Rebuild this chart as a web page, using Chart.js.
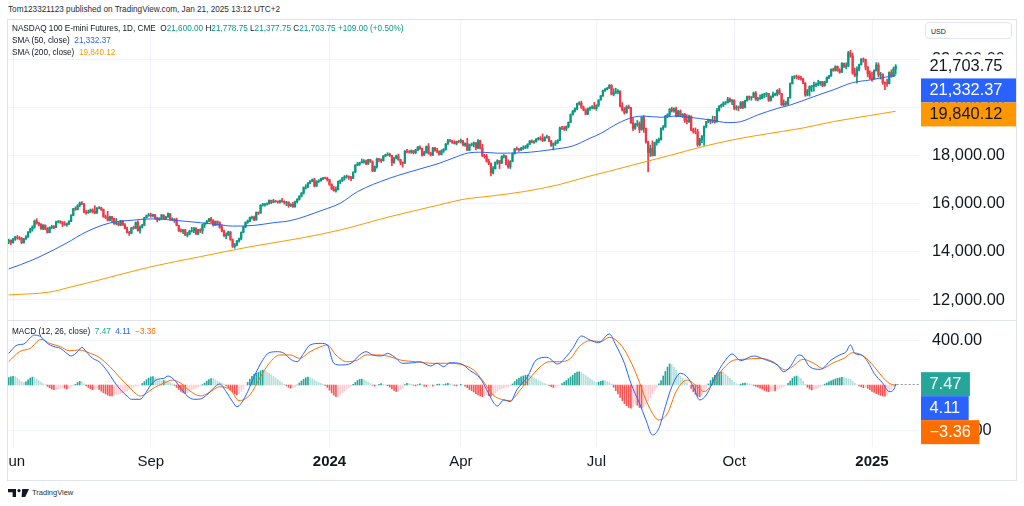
<!DOCTYPE html>
<html><head><meta charset="utf-8">
<script src="https://cdn.jsdelivr.net/npm/chart.js@4.4.1/dist/chart.umd.min.js"></script>
<style>
html,body{margin:0;padding:0;background:#fff;width:1024px;height:506px;overflow:hidden;font-family:"Liberation Sans",Arial,sans-serif;color:#131722}
.abs{position:absolute;white-space:nowrap}
#frame{position:absolute;left:7px;top:19px;width:1008px;height:460px;border:1px solid #e0e3eb}
canvas{position:absolute}
.lg{font-size:8.2px;line-height:12px}
</style></head><body>
<div class="abs lg" style="left:8px;top:4px;color:#2a2e39">Tom123321123 published on TradingView.com, Jan 21, 2025 13:12 UTC+2</div>
<div id="frame"></div>
<canvas id="main" width="1008" height="300" style="left:8px;top:20px"></canvas>
<div class="abs" style="left:8px;top:320px;width:1008px;height:1px;background:#e0e3eb"></div>
<canvas id="macd" width="1008" height="158" style="left:8px;top:321px"></canvas>
<div class="abs lg" id="lg1" style="left:12px;top:23px"></div>
<div class="abs lg" id="lg2" style="left:12px;top:35px"></div>
<div class="abs lg" id="lg3" style="left:12px;top:47px"></div>
<div class="abs lg" id="lg4" style="left:12px;top:326px"></div>
<div class="abs" style="left:925px;top:22px;width:87px;height:17px;border:1px solid #e0e3eb;border-radius:4px;font-size:7px;line-height:17px;padding-left:5px;box-sizing:border-box;background:#fff">USD</div>
<svg class="abs" style="left:8px;top:489px" width="22" height="8" viewBox="0 0 22 8">
<path d="M0 0H8V8H4.6V3.2H0Z" fill="#131722"/><circle cx="11" cy="1.6" r="1.6" fill="#131722"/><path d="M14.2 0H21L17.2 8H13.6Z" fill="#131722"/></svg>
<div class="abs" style="left:32px;top:487px;font-size:7.5px;line-height:12px;color:#2a2e39">TradingView</div>
<script>
const opens=[14420,14480,14380,14530,14600,14590,14560,14380,14540,14620,
14820,14940,15030,15280,15200,15150,14960,15110,14950,14800,
15020,15050,15010,15240,15260,15240,15150,15120,15170,15270,
15510,15790,15760,15930,16030,16000,15650,15620,15660,15740,
15680,15620,15820,15830,15770,15460,15420,15310,15460,15380,
15170,15200,15120,15290,15110,14960,14810,14770,15000,14980,
15220,14880,15020,15110,15420,15500,15530,15500,15540,15420,
15330,15370,15530,15380,15450,15580,15340,15360,15330,15100,
14870,14850,14920,14700,14740,14860,14880,14990,14740,14920,
14870,15120,15190,15270,15370,15300,15110,15260,15210,15010,
14870,14660,14700,14830,14500,14230,14290,14450,14550,14810,
15040,15220,15290,15420,15440,15330,15640,15610,15930,15960,
15990,16000,16140,16060,16110,16090,16070,16120,16080,16050,
16070,15920,15980,15870,16090,16180,16320,16450,16680,16690,
16860,16940,17000,16730,16930,16950,17040,17070,17050,17000,
16800,16610,16540,16580,16930,16960,17080,17120,17130,17120,
17060,17310,17600,17640,17700,17750,17770,17650,17830,17740,
17360,17550,17850,17830,17790,17980,18030,18050,18000,17700,
17900,17980,17830,17700,17680,18180,18160,18150,18200,18120,
18230,18350,18300,18020,18120,18380,18100,18030,18320,18200,
18180,18040,18200,18260,18480,18620,18600,18540,18500,18590,
18580,18620,18440,18500,18220,18440,18460,18530,18320,18620,
18300,17990,17960,17760,17660,17280,17460,17720,17790,17680,
17960,17990,17620,17530,17760,18080,18280,18260,18250,18300,
18320,18360,18470,18600,18560,18580,18680,18720,18700,18620,
18760,18780,18600,18420,18500,18560,18640,19150,19130,19100,
19200,19380,19700,19850,19950,20150,20180,20000,19900,19720,
19950,20000,20020,19950,20090,20310,20480,20700,20760,20800,
20920,20550,20620,20650,20680,20060,19900,19780,20020,19990,
19360,19130,19290,19320,19080,19590,19120,18570,18120,18290,
18000,18530,18620,18660,19130,19190,19640,19700,19930,19870,
19950,19640,19840,19660,19720,19460,19410,19640,19070,18990,
18980,18450,18660,18810,19220,19400,19490,19430,19460,19400,
19880,20060,20110,20190,20200,20340,20260,20300,19970,20010,
19990,20220,20000,20290,20450,20410,20430,20600,20340,20360,
20380,20520,20560,20580,20290,20440,20530,20560,20710,20570,
20110,20180,20140,20400,20990,21270,21280,21260,21230,21180,
21010,20520,20700,20870,20880,20930,20970,20990,21070,20900,
21060,21250,21310,21580,21540,21700,21530,21460,21830,21680,
21720,22270,22140,21420,21330,21580,21780,22010,22000,21680,
21400,21220,21190,21530,21760,21350,21370,21030,21010,20990,
21450,21290,21600];
const highs=[14530,14500,14560,14640,14680,14640,14600,14560,14680,14840,
14980,15080,15320,15380,15230,15170,15130,15120,15010,15040,
15110,15090,15280,15300,15300,15260,15260,15200,15300,15550,
15810,15870,15960,16070,16090,16010,15720,15740,15780,15790,
15920,15840,15880,15860,15780,15530,15680,15490,15480,15400,
15390,15240,15310,15300,15170,15030,14850,15020,15070,15240,
15290,15080,15140,15440,15530,15600,15610,15570,15560,15440,
15420,15560,15540,15480,15620,15590,15420,15380,15400,15110,
14960,14930,14930,14810,14900,15020,15010,15000,14940,14960,
15150,15200,15310,15390,15430,15340,15280,15290,15250,15120,
14900,14790,14860,14840,14540,14350,14480,14570,14830,15060,
15250,15320,15450,15490,15490,15660,15660,15960,16020,16010,
16040,16160,16150,16180,16140,16120,16150,16220,16120,16100,
16080,16000,16060,16110,16210,16330,16460,16700,16790,16880,
16960,17030,17060,16960,17000,17060,17100,17110,17100,17010,
16830,16720,16700,16950,16990,17100,17170,17190,17160,17130,
17330,17620,17720,17720,17860,17830,17810,17850,17850,17780,
17570,17900,17890,17870,18000,18060,18120,18100,18010,17920,
18020,18060,17850,17740,18210,18260,18210,18240,18210,18260,
18380,18400,18310,18180,18400,18500,18140,18340,18340,18300,
18200,18240,18290,18500,18680,18670,18640,18620,18600,18640,
18690,18630,18530,18720,18480,18520,18560,18540,18660,18640,
18470,18060,18050,17850,17700,17540,17740,17830,17800,17990,
18040,18000,17820,17790,18110,18300,18360,18300,18340,18400,
18420,18490,18630,18650,18620,18710,18760,18790,18900,18780,
18850,18790,18630,18520,18620,18660,19180,19220,19220,19230,
19400,19730,19880,19980,20180,20240,20260,20060,19940,19980,
20030,20080,20210,20110,20320,20500,20720,20780,20830,20950,
20950,20780,20800,20740,20690,20200,20000,20080,20100,20000,
19560,19350,19460,19400,19620,19660,19140,18600,18440,18610,
18560,18680,18730,19150,19250,19670,19740,19950,20010,19980,
20020,19880,19900,19740,19760,19700,19680,19650,19140,19150,
19090,18720,18830,19230,19420,19520,19500,19640,19630,19960,
20080,20140,20230,20250,20420,20400,20330,20320,20080,20060,
20240,20250,20300,20470,20480,20450,20640,20660,20420,20520,
20560,20590,20620,20590,20480,20640,20600,20740,20790,20580,
20320,20260,20420,21020,21300,21330,21350,21320,21300,21210,
21030,20750,20900,20920,21050,21020,21130,21080,21080,21090,
21270,21330,21600,21630,21730,21720,21610,21860,21840,21850,
22330,22380,22260,21640,21690,21800,22030,22060,22010,21700,
21520,21470,21560,21860,21850,21460,21400,21060,21180,21480,
21560,21680,21778.75];
const lows=[14340,14300,14360,14480,14520,14500,14340,14360,14520,14600,
14790,14860,14980,15150,15080,14930,14920,14920,14780,14790,
14960,14960,15000,15200,15180,15050,15100,15060,15130,15250,
15500,15720,15740,15880,15960,15620,15560,15600,15640,15610,
15580,15600,15780,15720,15440,15380,15280,15290,15240,15140,
15130,15080,15080,15100,14950,14790,14680,14750,14940,14960,
14860,14780,14990,15090,15400,15480,15440,15450,15360,15240,
15310,15360,15360,15350,15430,15310,15290,15220,15080,14850,
14820,14760,14680,14620,14700,14820,14800,14720,14710,14800,
14760,15010,15160,15240,15210,15070,15090,15100,14980,14830,
14640,14550,14680,14480,14180,14150,14250,14400,14500,14790,
15000,15180,15250,15360,15300,15310,15550,15600,15900,15900,
15940,15980,16000,16040,16060,16020,16020,16060,15980,15920,
15850,15880,15850,15860,16030,16150,16280,16400,16610,16680,
16830,16920,16700,16720,16880,16940,17000,17030,16940,16760,
16590,16520,16480,16570,16830,16920,16980,17060,17010,16960,
17040,17290,17580,17590,17690,17680,17620,17630,17720,17330,
17330,17480,17740,17720,17770,17950,18000,17960,17580,17680,
17860,17800,17620,17520,17670,18110,18100,18090,18070,18080,
18200,18260,17980,18000,18100,18060,17980,18000,18180,18120,
18020,18030,18130,18220,18460,18570,18510,18480,18440,18530,
18520,18400,18380,18210,18200,18400,18360,18230,18290,18270,
17960,17890,17730,17620,17150,17240,17440,17640,17460,17670,
17900,17610,17480,17460,17740,18060,18230,18170,18200,18250,
18290,18300,18460,18530,18500,18560,18640,18640,18580,18600,
18720,18580,18380,18230,18420,18500,18620,19080,19050,19040,
19150,19370,19680,19800,19900,20100,19960,19860,19690,19700,
19880,19940,19930,19880,20040,20300,20460,20670,20730,20790,
20520,20480,20580,20560,20020,19850,19720,19760,19950,19340,
19030,19090,19220,18950,19050,18960,18520,17320,17960,17980,
17990,18430,18540,18640,19060,19170,19580,19640,19810,19800,
19610,19620,19620,19580,19380,19320,19380,19040,18930,18900,
18380,18400,18540,18420,19150,19370,19320,19360,19350,19390,
19850,20000,20040,20120,20180,20220,20120,19900,19890,19860,
19950,19950,19980,20260,20310,20300,20410,20290,20270,20330,
20370,20400,20440,20250,20260,20420,20490,20480,20540,20080,
20050,20080,20120,20380,20970,21200,21180,21160,21130,20990,
20460,20480,20470,20660,20680,20860,20900,20920,20860,20880,
21030,21200,21290,21500,21510,21500,21420,21450,21660,21600,
21700,22080,21380,21280,21010,21520,21760,21880,21560,21270,
21170,21090,21170,21510,21270,21180,20960,20740,20870,20970,
21250,21280,21377.75];
const closes=[14480,14380,14530,14600,14590,14560,14380,14540,14620,14820,
14940,15030,15280,15200,15150,14960,15110,14950,14800,15020,
15050,15010,15240,15260,15240,15150,15120,15170,15270,15510,
15790,15760,15930,16030,16000,15650,15620,15660,15740,15680,
15620,15820,15830,15770,15460,15420,15310,15460,15380,15170,
15200,15120,15290,15110,14960,14810,14770,15000,14980,15220,
14880,15020,15110,15420,15500,15530,15500,15540,15420,15330,
15370,15530,15380,15450,15580,15340,15360,15330,15100,14870,
14850,14920,14700,14740,14860,14880,14990,14740,14920,14870,
15120,15190,15270,15370,15300,15110,15260,15210,15010,14870,
14660,14700,14830,14500,14230,14290,14450,14550,14810,15040,
15220,15290,15420,15440,15330,15640,15610,15930,15960,15990,
16000,16140,16060,16110,16090,16070,16120,16080,16050,16070,
15920,15980,15870,16090,16180,16320,16450,16680,16690,16860,
16940,17000,16730,16930,16950,17040,17070,17050,17000,16800,
16610,16540,16580,16930,16960,17080,17120,17130,17120,17060,
17310,17600,17640,17700,17750,17770,17650,17830,17740,17360,
17550,17850,17830,17790,17980,18030,18050,18000,17700,17900,
17980,17830,17700,17680,18180,18160,18150,18200,18120,18230,
18350,18300,18020,18120,18380,18100,18030,18320,18200,18180,
18040,18200,18260,18480,18620,18600,18540,18500,18590,18580,
18620,18440,18500,18220,18440,18460,18530,18320,18620,18300,
17990,17960,17760,17660,17280,17460,17720,17790,17680,17960,
17990,17620,17530,17760,18080,18280,18260,18250,18300,18320,
18360,18470,18600,18560,18580,18680,18720,18700,18620,18760,
18780,18600,18420,18500,18560,18640,19150,19130,19100,19200,
19380,19700,19850,19950,20150,20180,20000,19900,19720,19950,
20000,20020,19950,20090,20310,20480,20700,20760,20800,20920,
20550,20620,20650,20680,20060,19900,19780,20020,19990,19360,
19130,19290,19320,19080,19590,19120,18570,18120,18290,18000,
18530,18620,18660,19130,19190,19640,19700,19930,19870,19950,
19640,19840,19660,19720,19460,19410,19640,19070,18990,18980,
18450,18660,18810,19220,19400,19490,19430,19460,19400,19880,
20060,20110,20190,20200,20340,20260,20300,19970,20010,19990,
20220,20000,20290,20450,20410,20430,20600,20340,20360,20380,
20520,20560,20580,20290,20440,20530,20560,20710,20570,20110,
20180,20140,20400,20990,21270,21280,21260,21230,21180,21010,
20520,20700,20870,20880,20930,20970,20990,21070,20900,21060,
21250,21310,21580,21540,21700,21530,21460,21830,21680,21720,
22270,22140,21420,21330,21580,21780,22010,22000,21680,21400,
21220,21190,21530,21760,21350,21370,21030,21010,20990,21450,
21290,21594.75,21703.75];

const sma50Days=[0,11,27,36,47,58,67,76,89,97,104,114,123,131,146,154,162,177,192,200,208,213,220,227,239,253,262,270,275,283,290,295,303,309,316,326,334,340,348,357,363,374,383,392,400,406,412];
const sma50Vals=[13290,13660,14370,14830,15200,15320,15370,15320,15210,15140,15070,15100,15210,15300,15740,16020,16500,17060,17470,17680,17950,18100,18140,18100,18120,18260,18400,18720,18920,19340,19590,19640,19590,19640,19590,19480,19370,19410,19690,19960,20100,20450,20730,21030,21140,21240,21332.37];
const sma200Days=[0,19,28,42,66,89,112,135,154,177,200,211,224,239,255,270,279,290,299,306,321,336,352,368,383,399,412];
const sma200Vals=[12210,12330,12520,12830,13380,13800,14210,14560,14910,15460,15950,16180,16320,16500,16780,17150,17350,17610,17820,17980,18340,18650,18900,19130,19410,19650,19840.12];

const macdDays=[0,4,7,10,12,15,18,21,24,27,29,32,34,36,39,42,46,49,52,55,57,61,63,66,69,72,74,77,80,83,86,89,92,95,98,101,104,106,108,111,114,118,121,125,128,131,134,137,140,145,148,151,154,159,163,166,169,173,176,179,183,188,191,196,199,202,205,210,214,219,222,225,227,230,233,236,241,245,250,255,259,262,266,270,274,279,282,286,289,293,296,299,302,305,308,312,315,318,321,324,329,334,336,340,346,351,357,360,363,367,369,372,377,382,386,389,391,393,396,399,402,406,409,411,412];
const macdVals=[281,356,364,420,444,428,370,341,326,281,258,296,335,296,237,207,118,29,-44,-98,-127,-127,-89,0,50,59,80,44,-30,-98,-127,-124,-89,-30,9,-59,-148,-193,-163,-59,74,222,287,296,281,228,207,281,356,370,356,193,178,193,267,296,267,258,281,252,193,198,207,169,193,163,198,190,133,59,-40,-150,-187,-133,-148,-44,74,222,246,187,252,326,436,400,376,453,356,193,15,-163,-311,-444,-385,-193,-15,104,74,-15,-133,-89,104,246,276,216,258,228,178,118,163,267,252,163,139,222,267,296,356,281,267,207,104,15,-59,-44,4.11];
const signalDays=[0,5,10,15,19,24,28,33,38,42,47,52,55,58,61,64,67,72,76,80,84,89,93,98,103,107,112,117,121,126,131,135,140,145,148,152,157,162,166,172,177,182,189,197,205,211,216,220,225,230,233,237,242,247,251,256,261,265,270,275,279,283,287,292,296,300,302,306,310,315,320,323,327,332,337,341,349,355,361,364,369,374,378,383,388,392,397,402,406,409,412];
const signalVals=[207,296,326,406,370,341,305,311,281,246,163,59,0,-59,-98,-74,-30,15,44,15,-50,-98,-68,-15,-44,-139,-89,74,193,267,267,237,296,341,356,267,207,222,267,267,252,222,207,193,193,178,133,44,-89,-133,-139,-59,59,163,207,207,237,341,394,385,424,385,281,74,-133,-281,-311,-252,-59,44,-15,-59,15,148,222,228,237,207,133,163,228,193,148,198,237,287,258,163,68,15,-3.36];
const histVals=[65,72,78,74,62,45,30,22,28,45,
62,70,66,52,38,25,12,2,-12,-25,-36,-42,-40,-34,-28,
-22,-28,-35,-30,-20,-8,6,22,32,28,10,
-8,-22,-34,-42,-38,-30,-40,
-55,-68,-80,-90,-96,-98,-92,-86,-80,-78,-72,
-62,-52,-40,-30,-20,-12,-8,-2,
14,30,48,62,72,74,66,52,
44,36,40,38,30,22,12,
-4,-22,-40,-56,-68,-74,-70,-58,
-46,-36,-28,-20,-10,
4,18,34,48,58,56,46,34,
24,14,4,-8,-24,-46,
-64,-80,-88,-78,-56,-30,
-4,24,52,76,96,104,
114,126,133,128,118,
104,90,76,62,48,34,20,6,-8,
-20,-28,-24,-14,0,
18,36,52,64,70,66,58,
44,32,22,14,6,-4,-20,
-46,-70,-90,-104,-100,-88,-70,-52,-36,-22,-10,
6,24,40,50,53,46,36,24,14,
-2,-10,-4,6,12,8,2,-6,-18,
-34,-48,-58,-54,-42,-28,
4,14,12,6,-2,-8,2,10,4,-10,-14,-6,-2,-10,
-4,6,8,2,4,10,14,10,2,-4,-8,-2,6,
0,-10,-24,-40,
-50,-62,-76,-88,-98,-104,-96,-88,-94,-100,-86,
-70,-56,-42,-34,-26,-20,-18,-8,
10,30,48,60,72,80,86,89,84,76,64,50,
40,30,20,12,4,-4,
-14,-22,-20,-12,-2,
12,26,40,56,72,88,104,114,118,110,98,
84,70,56,44,30,22,
26,32,38,36,30,22,8,
-20,-50,-80,-110,-140,-165,-185,-200,-207,-190,-170,-180,
-200,-207,-190,-170,-140,-110,-80,-50,-20,10,
40,80,120,160,187,180,160,130,100,76,
60,40,20,0,-30,-60,
-84,-100,-104,-90,-60,
-24,10,40,66,86,104,114,118,110,96,80,60,42,
24,10,4,8,14,18,16,10,
4,-4,-12,-20,-28,
-38,-48,-56,-59,-56,-48,-52,-40,-32,-24,-14,-4,
14,36,58,74,80,72,58,34,
6,-20,-36,-44,-40,-32,-24,-14,-4,
8,18,28,38,46,54,60,64,68,66,60,56,50,34,
16,2,-8,-16,-24,
-20,-30,-42,-56,-66,-76,-84,-92,-98,-100,-90,
-64,-36,-12,7.47];

const monthTicks=[2,66,149,210,273,337,401];
const monthLabels=['Jun','Sep','2024','Apr','Jul','Oct','2025'];
const priceTicks=[12000,14000,16000,18000,20000,22000];
const macdTicks=[-400,400];

// ---- styling / layout constants ----
const UP='#089981', DOWN='#F23645', GRID='#f0f3fa', TXT='#131722';
const FONT='"Liberation Sans", Arial, sans-serif';
const XMIN=-0.3225, XMAX=422.83;
const AXISW=97;

const fmtPrice=v=>v.toLocaleString('en-US',{minimumFractionDigits:2,maximumFractionDigits:2});
const fmtSigned=v=>(v<0?'\u2212':'')+fmtPrice(Math.abs(v));

const N=closes.length, L=N-1;
const sp=(t,c)=>`<span style="color:${c}">${t}</span>`;
const chg=closes[L]-closes[L-1];
document.getElementById('lg1').innerHTML='NASDAQ 100 E-mini Futures, 1D, CME&nbsp;&nbsp;O'+sp(fmtPrice(opens[L]),UP)+
 '&nbsp;H'+sp(fmtPrice(highs[L]),UP)+'&nbsp;L'+sp(fmtPrice(lows[L]),UP)+'&nbsp;C'+sp(fmtPrice(closes[L]),UP)+'&nbsp;'+
 sp((chg>=0?'+':'\u2212')+fmtPrice(Math.abs(chg))+' ('+(chg>=0?'+':'\u2212')+(Math.abs(chg)/closes[L-1]*100).toFixed(2)+'%)',UP);
document.getElementById('lg2').innerHTML='SMA (50, close)&nbsp;&nbsp;'+sp(fmtPrice(sma50Vals[sma50Vals.length-1]),'#2962FF');
document.getElementById('lg3').innerHTML='SMA (200, close)&nbsp;&nbsp;'+sp(fmtPrice(sma200Vals[sma200Vals.length-1]),'#FF9800');
const hL=histVals[histVals.length-1], mL=macdVals[macdVals.length-1], sL=signalVals[signalVals.length-1];
document.getElementById('lg4').innerHTML='MACD (12, 26, close)&nbsp;&nbsp;'+sp(fmtSigned(hL),'#22AB94')+'&nbsp;&nbsp;'+sp(fmtSigned(mL),'#2962FF')+'&nbsp;&nbsp;'+sp(fmtSigned(sL),'#FF6D00');

const cColors=closes.map((c,i)=>c>=opens[i]?UP:DOWN);
const histColors=histVals.map((h,i)=>{const p=i?histVals[i-1]:h;return h>=0?(h>=p?'#26A69A':'#B2DFDB'):(h<p?'#FF5252':'#FFCDD2');});

function xAxis(){return {type:'linear',min:XMIN,max:XMAX,offset:false,
  grid:{color:GRID,drawTicks:false,offset:false},border:{display:false},ticks:{display:false},
  afterBuildTicks:s=>{s.ticks=monthTicks.map(v=>({value:v}));},afterFit:s=>{s.height=0;}};}
function yAxis(min,max,ticks){return {position:'right',min,max,
  grid:{color:GRID,drawTicks:false},border:{display:false},ticks:{display:false},
  afterBuildTicks:s=>{s.ticks=ticks.map(v=>({value:v}));},afterFit:s=>{s.width=AXISW;}};}

function labelsPlugin(ticks,tags,fmt,fullWidth){
  return {id:'lbl',afterDraw(chart){
    const {ctx,chartArea,scales:{y}}=chart;
    ctx.save();
    ctx.font='16.4px '+FONT; ctx.textBaseline='middle'; ctx.textAlign='left';
    ctx.fillStyle=TXT;
    ticks.forEach(v=>ctx.fillText(fmt(v),chartArea.right+13,y.getPixelForValue(v)));
    let prev=-1e9;
    tags.forEach(t=>{
      const c=Math.max(y.getPixelForValue(t.value),prev+12);
      const txt=fmt(t.value);
      const w=fullWidth?chart.width-chartArea.right-2:ctx.measureText(txt).width+17;
      ctx.fillStyle=t.bg; ctx.fillRect(chartArea.right+2,c-12,w,24);
      ctx.fillStyle=t.fg; ctx.fillText(txt,chartArea.right+10.5,c+0.5);
      prev=c+12;
    });
    ctx.restore();
  }};
}

function draw(){
Chart.defaults.font.family=FONT;
new Chart(document.getElementById('main'),{
  type:'bar',
  data:{datasets:[
    {type:'line',data:sma50Days.map((d,i)=>({x:d,y:sma50Vals[i]})),borderColor:'#2962FF',borderWidth:1,pointRadius:0,cubicInterpolationMode:'monotone',order:0},
    {type:'line',data:sma200Days.map((d,i)=>({x:d,y:sma200Vals[i]})),borderColor:'#FF9800',borderWidth:1,pointRadius:0,cubicInterpolationMode:'monotone',order:0},
    {data:closes.map((c,i)=>({x:i,y:[opens[i],c]})),backgroundColor:cColors,barThickness:1.6,grouped:false,order:1},
    {data:closes.map((c,i)=>({x:i,y:[lows[i],highs[i]]})),backgroundColor:cColors,barThickness:1,grouped:false,order:2}
  ]},
  options:{responsive:false,animation:false,devicePixelRatio:1,layout:{padding:0},
    plugins:{legend:{display:false},tooltip:{enabled:false}},
    scales:{x:xAxis(),y:yAxis(11169,23632.7,priceTicks)}},
  plugins:[labelsPlugin(priceTicks,[
    {value:closes[L],bg:'#ffffff',fg:TXT},
    {value:sma50Vals[sma50Vals.length-1],bg:'#2962FF',fg:'#ffffff'},
    {value:sma200Vals[sma200Vals.length-1],bg:'#FF9800',fg:TXT}],fmtPrice,true)]
});

const timePlugin={id:'time',afterDraw(chart){
  const {ctx,chartArea,scales:{x,y}}=chart;
  ctx.save();
  ctx.strokeStyle='#9598a1'; ctx.setLineDash([2,2]); ctx.lineWidth=1;
  const yy=Math.round(y.getPixelForValue(hL))+0.5;
  ctx.beginPath(); ctx.moveTo(x.getPixelForValue(L)+1,yy); ctx.lineTo(chartArea.right,yy); ctx.stroke();
  ctx.setLineDash([]);
  ctx.textAlign='center'; ctx.textBaseline='middle'; ctx.fillStyle=TXT;
  monthTicks.forEach((v,i)=>{
    const yr=/^\d{4}$/.test(monthLabels[i]);
    ctx.font=(yr?'bold ':'')+'15px '+FONT;
    ctx.fillText(monthLabels[i],x.getPixelForValue(v),chartArea.bottom+15);
  });
  ctx.restore();
}};

new Chart(document.getElementById('macd'),{
  type:'bar',
  data:{datasets:[
    {type:'line',data:macdDays.map((d,i)=>({x:d,y:macdVals[i]})),borderColor:'#2962FF',borderWidth:1,pointRadius:0,cubicInterpolationMode:'monotone',order:0},
    {type:'line',data:signalDays.map((d,i)=>({x:d,y:signalVals[i]})),borderColor:'#FF6D00',borderWidth:1,pointRadius:0,cubicInterpolationMode:'monotone',order:0},
    {data:histVals.map((h,i)=>({x:i,y:h})),backgroundColor:histColors,barThickness:1,grouped:false,order:1}
  ]},
  options:{responsive:false,animation:false,devicePixelRatio:1,layout:{padding:{bottom:32}},
    plugins:{legend:{display:false},tooltip:{enabled:false}},
    scales:{x:xAxis(),y:yAxis(-551.1,568.9,macdTicks)}},
  plugins:[timePlugin,labelsPlugin(macdTicks,[
    {value:hL,bg:'#26A69A',fg:'#ffffff'},
    {value:mL,bg:'#2962FF',fg:'#ffffff'},
    {value:sL,bg:'#FF6D00',fg:'#ffffff'}],fmtSigned,false)]
});
}
if(document.fonts&&document.fonts.load){document.fonts.load('16px "Liberation Sans"').then(draw,draw);}else draw();
</script>
</body></html>
